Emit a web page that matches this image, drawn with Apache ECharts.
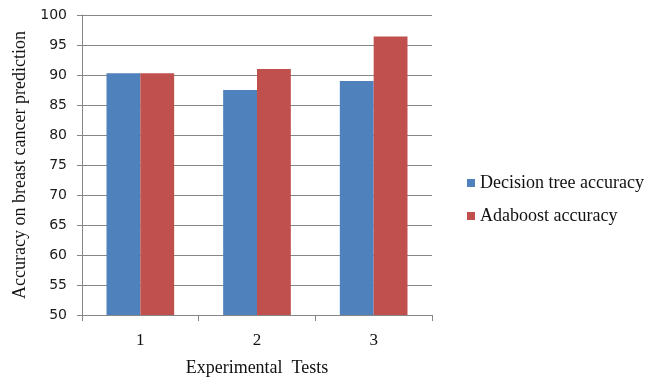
<!DOCTYPE html>
<html>
<head>
<meta charset="utf-8">
<script src="https://cdn.jsdelivr.net/npm/echarts@6/dist/echarts.min.js"></script>
<style>
  html, body { margin: 0; padding: 0; background: #fff; }
  #chart { width: 649px; height: 379px; }
</style>
</head>
<body>
<div id="chart"></div>
<script>
// Accuracy of the two classifiers over three experimental tests
const tests = ['1', '2', '3'];
const decisionTree = [90.3, 87.5, 89.0];
const adaboost = [90.3, 91.0, 96.4];
const yTicks = { min: 50, max: 100, step: 5 };

const axisGrey = '#868686';
const serif = '"Liberation Serif", "Times New Roman", serif';

const chart = echarts.init(document.getElementById('chart'), null, { renderer: 'canvas' });
chart.setOption({
  animation: false,
  backgroundColor: '#ffffff',
  grid: { left: 82, right: 217, top: 15, bottom: 64, containLabel: false, outerBoundsMode: 'none' },
  legend: {
    orient: 'vertical',
    left: 462,
    top: 169,
    itemWidth: 8,
    itemHeight: 8,
    itemGap: 15,
    icon: 'rect',
    textStyle: { fontFamily: serif, fontSize: 18, color: '#111' },
    data: ['Decision tree accuracy', 'Adaboost accuracy']
  },
  xAxis: {
    type: 'category',
    data: tests,
    name: 'Experimental  Tests',
    nameLocation: 'middle',
    nameGap: 44,
    nameTextStyle: { fontFamily: serif, fontSize: 18, color: '#111' },
    axisLine: { lineStyle: { color: axisGrey, width: 1 } },
    axisTick: { show: true, length: 6, lineStyle: { color: axisGrey } },
    axisLabel: { fontFamily: serif, fontSize: 17, color: '#111', margin: 17 }
  },
  yAxis: {
    type: 'value',
    min: yTicks.min,
    max: yTicks.max,
    interval: yTicks.step,
    name: 'Accuracy on breast cancer prediction',
    nameLocation: 'middle',
    nameGap: 53,
    nameTextStyle: { fontFamily: serif, fontSize: 18, color: '#111' },
    axisLine: { show: true, lineStyle: { color: axisGrey, width: 1 } },
    axisTick: { show: true, length: 5, lineStyle: { color: axisGrey } },
    axisLabel: { fontFamily: '"DejaVu Sans", Verdana, sans-serif', fontSize: 14, color: '#1a1a1a', margin: 15 },
    splitLine: { show: true, lineStyle: { color: axisGrey, width: 1 } }
  },
  series: [
    {
      name: 'Decision tree accuracy',
      type: 'bar',
      data: decisionTree,
      barWidth: '29%',
      barGap: '0%',
      itemStyle: { color: '#4F81BD' }
    },
    {
      name: 'Adaboost accuracy',
      type: 'bar',
      data: adaboost,
      barWidth: '29%',
      barGap: '0%',
      itemStyle: { color: '#C0504D' }
    }
  ]
});
</script>
</body>
</html>
